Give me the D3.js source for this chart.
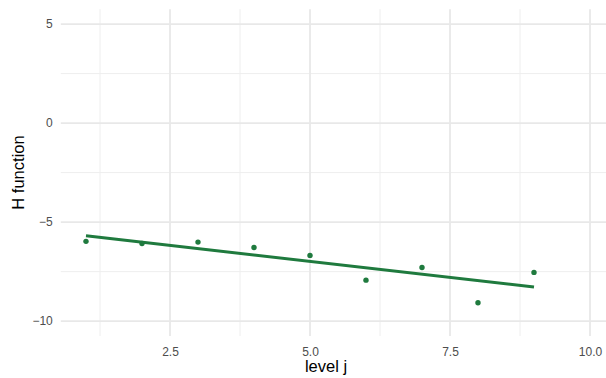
<!DOCTYPE html>
<html>
<head>
<meta charset="utf-8">
<script src="https://cdn.jsdelivr.net/npm/d3@7"></script>
<style>
  body { margin: 0; background: #fff; }
  text { font-family: "Liberation Sans", Arial, sans-serif; }
</style>
</head>
<body>
<div id="chart"></div>
<script>
// data
var levels = [1, 2, 3, 4, 5, 6, 7, 8, 9];
var hValues = [-5.97, -6.08, -6.01, -6.28, -6.68, -7.93, -7.29, -9.07, -7.54];
// fitted (lm) line ends
var fitX = [1, 9];
var fitY = [-5.69, -8.28];

var xTicks = [2.5, 5.0, 7.5, 10.0];
var xMinor = [1.25, 3.75, 6.25, 8.75];
var yTicks = [-10, -5, 0, 5];
var yMinor = [-7.5, -2.5, 2.5];

var width = 606, height = 378;
var panel = { left: 60.8, top: 9.2, bottom: 336 };

var svg = d3.select("#chart")
  .append("svg")
    .attr("width", width)
    .attr("height", height);

var x = d3.scaleLinear()
  .domain([0.55, 10.45])
  .range([panel.left, panel.left + 9.9 * 56]);

var y = d3.scaleLinear()
  .domain([-10.75, 5.75])
  .range([panel.bottom, panel.top]);

var x0 = x.range()[0], x1 = x.range()[1];

// grid
svg.selectAll("minorY")
  .data(yMinor)
  .enter()
  .append("line")
    .attr("x1", x0).attr("x2", x1)
    .attr("y1", function(d) { return y(d) })
    .attr("y2", function(d) { return y(d) })
    .attr("stroke", "#eeeeee")
    .attr("stroke-width", 1);

svg.selectAll("minorX")
  .data(xMinor)
  .enter()
  .append("line")
    .attr("y1", panel.top).attr("y2", panel.bottom)
    .attr("x1", function(d) { return x(d) })
    .attr("x2", function(d) { return x(d) })
    .attr("stroke", "#eeeeee")
    .attr("stroke-width", 1);

svg.selectAll("majorY")
  .data(yTicks)
  .enter()
  .append("line")
    .attr("x1", x0).attr("x2", x1)
    .attr("y1", function(d) { return y(d) })
    .attr("y2", function(d) { return y(d) })
    .attr("stroke", "#e8e8e8")
    .attr("stroke-width", 1.8);

svg.selectAll("majorX")
  .data(xTicks)
  .enter()
  .append("line")
    .attr("y1", panel.top).attr("y2", panel.bottom)
    .attr("x1", function(d) { return x(d) })
    .attr("x2", function(d) { return x(d) })
    .attr("stroke", "#e8e8e8")
    .attr("stroke-width", 1.8);

// axes (labels only, ggplot minimal style)
var xAxis = svg.append("g")
  .attr("transform", "translate(0," + panel.bottom + ")")
  .call(d3.axisBottom(x).tickValues(xTicks).tickFormat(d3.format(".1f")).tickSize(0).tickPadding(11));
xAxis.select(".domain").remove();
xAxis.selectAll("text").attr("fill", "#4d4d4d").style("font-size", "12px");

var yAxis = svg.append("g")
  .attr("transform", "translate(" + panel.left + ",0)")
  .call(d3.axisLeft(y).tickValues(yTicks)
    .tickFormat(function(d) { return d < 0 ? "\u2212" + (-d) : d })
    .tickSize(0).tickPadding(8));
yAxis.select(".domain").remove();
yAxis.selectAll("text").attr("fill", "#4d4d4d").style("font-size", "12px");

// fitted line
var line = d3.line()
  .x(function(d) { return x(d[0]) })
  .y(function(d) { return y(d[1]) });

svg.append("path")
  .datum(d3.zip(fitX, fitY))
  .attr("d", line)
  .attr("fill", "none")
  .attr("stroke", "#1f7a3e")
  .attr("stroke-width", 3);

// points
svg.selectAll("pts")
  .data(d3.zip(levels, hValues))
  .enter()
  .append("circle")
    .attr("cx", function(d) { return x(d[0]) })
    .attr("cy", function(d) { return y(d[1]) })
    .attr("r", 2.7)
    .attr("fill", "#1f7a3e");

// titles
svg.append("text")
  .attr("x", 326)
  .attr("y", 372)
  .attr("text-anchor", "middle")
  .style("font-size", "16.5px")
  .attr("fill", "#000")
  .text("level j");

svg.append("text")
  .attr("transform", "translate(24," + 172.5 + ") rotate(-90)")
  .attr("text-anchor", "middle")
  .style("font-size", "16.5px")
  .attr("fill", "#000")
  .text("H function");
</script>
</body>
</html>
